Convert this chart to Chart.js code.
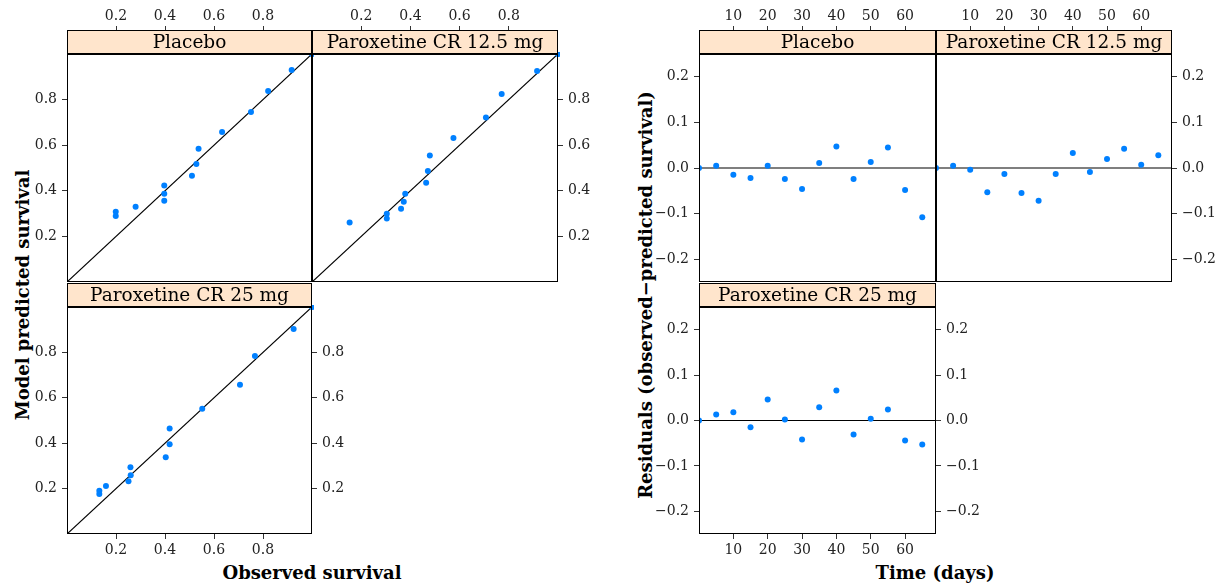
<!DOCTYPE html>
<html>
<head>
<meta charset="utf-8">
<script src="https://cdn.jsdelivr.net/npm/chart.js@4.4.1/dist/chart.umd.min.js"></script>
<style>
    body { margin: 0; background: #fff; width: 1219px; height: 587px; position: relative; overflow: hidden; font-family: "DejaVu Serif", serif; }
    canvas { position: absolute; }
    .title { position: absolute; font-weight: bold; font-size: 18px; white-space: nowrap; color: #000; transform: translate(-50%, -50%); }
    .title.rot { transform: translate(-50%, -50%) rotate(-90deg); }
</style>
</head>
<body>
<div class="title" style="left:312px;top:572px">Observed survival</div>
<div class="title" style="left:935px;top:572px">Time (days)</div>
<div class="title rot" style="left:22px;top:295px">Model predicted survival</div>
<div class="title rot" style="left:645px;top:295px">Residuals (observed−predicted survival)</div>
<script>
// panel names
const groups = ['Placebo', 'Paroxetine CR 12.5 mg', 'Paroxetine CR 25 mg'];

// observed vs model predicted survival
const obsPlacebo  = [1.0, 0.917, 0.821, 0.751, 0.633, 0.537, 0.528, 0.510, 0.397, 0.397, 0.397, 0.280, 0.199, 0.199];
const predPlacebo = [1.0, 0.930, 0.838, 0.746, 0.658, 0.584, 0.518, 0.466, 0.423, 0.387, 0.356, 0.330, 0.308, 0.290];
const obs125  = [1.0, 0.915, 0.771, 0.707, 0.575, 0.479, 0.471, 0.464, 0.379, 0.373, 0.362, 0.304, 0.304, 0.153];
const pred125 = [1.0, 0.925, 0.825, 0.722, 0.632, 0.555, 0.487, 0.435, 0.387, 0.352, 0.321, 0.299, 0.279, 0.261];
const obs25  = [1.0, 0.925, 0.767, 0.706, 0.552, 0.419, 0.419, 0.403, 0.260, 0.259, 0.251, 0.159, 0.132, 0.132];
const pred25 = [1.0, 0.903, 0.784, 0.657, 0.552, 0.465, 0.395, 0.338, 0.259, 0.294, 0.232, 0.211, 0.190, 0.176];

// residuals over time
const days = [0, 5, 10, 15, 20, 25, 30, 35, 40, 45, 50, 55, 60, 65];
const resPlacebo = [0, 0.005, -0.015, -0.022, 0.005, -0.024, -0.046, 0.011, 0.047, -0.024, 0.013, 0.045, -0.048, -0.108];
const res125 = [0, 0.005, -0.004, -0.053, -0.013, -0.055, -0.072, -0.013, 0.033, -0.009, 0.020, 0.042, 0.007, 0.028];
const res25 = [0, 0.013, 0.018, -0.015, 0.046, 0.002, -0.042, 0.029, 0.066, -0.031, 0.004, 0.024, -0.044, -0.053];

// axis limits and ticks
const survLimits = [0, 1];
const survTicks = [0.2, 0.4, 0.6, 0.8];
const survTickLabels = ['0.2', '0.4', '0.6', '0.8'];
const dayLimits = [0, 69];
const dayTicks = [10, 20, 30, 40, 50, 60];
const dayTickLabels = ['10', '20', '30', '40', '50', '60'];
const resLimits = [-0.25, 0.25];
const resTicks = [-0.2, -0.1, 0, 0.1, 0.2];
const resTickLabels = ['−0.2', '−0.1', '0.0', '0.1', '0.2'];

// sizes of the margins around each panel (px)
const LEFT_W = 52, RIGHT_W = 46, TOP_H = 22, STRIP_H = 24, BOTTOM_H = 28, PAD = 3, PAD_B = 16;
const tickFont = { family: '"DejaVu Serif", serif', size: 14 };

function pairs(xs, ys) {
    return xs.map((x, i) => ({ x: x, y: ys[i] }));
}

// strip on top of the panel + box around it
const panelDeco = {
    id: 'panelDeco',
    afterDraw(chart) {
        const ctx = chart.ctx;
        const a = chart.chartArea;
        const s = chart.scales.strip;
        const l = Math.round(a.left) + 0.5, r = Math.round(a.right) - 0.5;
        const st = Math.round(s.top) + 0.5, sb = Math.round(s.bottom) - 0.5;
        ctx.save();
        ctx.fillStyle = '#ffe5cc';
        ctx.fillRect(l, st, r - l, sb - st);
        ctx.strokeStyle = '#000';
        ctx.lineWidth = 1;
        ctx.strokeRect(l, st, r - l, sb - st);
        ctx.fillStyle = '#000';
        ctx.font = '18.5px "DejaVu Serif", serif';
        ctx.textAlign = 'center';
        ctx.textBaseline = 'middle';
        ctx.fillText(chart.options.plugins.panelDeco.label, (l + r) / 2, (st + sb) / 2 + 1);
        ctx.strokeRect(l, Math.round(a.top) + 0.5, r - l, Math.round(a.bottom) - Math.round(a.top) - 1);
        ctx.restore();
    }
};

function axisOpts(kind, ticks, labels, lim, extra) {
    return Object.assign({
        type: 'linear',
        min: lim[0],
        max: lim[1],
        afterBuildTicks: s => { s.ticks = ticks.map(v => ({ value: v })); },
        ticks: {
            font: tickFont,
            color: '#222',
            padding: kind === 'top' ? 1 : (kind === 'bottom' ? 3 : 5),
            maxRotation: 0,
            autoSkip: false,
            callback: (v, i) => labels[i]
        },
        grid: { drawOnChartArea: false, drawTicks: true, tickLength: kind === 'top' ? 4 : 5, color: '#333' },
        border: { display: false }
    }, extra);
}

function makePanel(p) {
    const cv = document.createElement('canvas');
    const padL = p.yLeft ? LEFT_W : PAD;
    const padR = p.yRight ? RIGHT_W : PAD;
    const padT = STRIP_H + (p.xTop ? TOP_H : PAD);
    const padB = p.xBottom ? BOTTOM_H : PAD_B;
    const width = (p.r - p.l) + padL + padR;
    const height = (p.b - p.t) + padT + padB;
    cv.width = width;
    cv.height = height;
    cv.style.left = (p.l - padL) + 'px';
    cv.style.top = (p.t - padT) + 'px';
    cv.style.width = width + 'px';
    cv.style.height = height + 'px';
    document.body.appendChild(cv);

    const xKind = p.xTop ? 'top' : 'bottom';
    const scales = {
        x: axisOpts(xKind, p.xTicks, p.xLabels, p.xLim, {
            position: xKind, weight: 1,
            afterFit: s => { s.height = p.xTop ? TOP_H : BOTTOM_H; }
        }),
        strip: {
            type: 'linear', position: 'top', weight: 0, min: 0, max: 1,
            ticks: { display: false }, grid: { display: false }, border: { display: false },
            afterFit: s => { s.height = STRIP_H; }
        },
        y: axisOpts('y', p.yTicks, p.yLabels, p.yLim, {
            position: p.yLeft ? 'left' : 'right',
            afterFit: s => { s.width = p.yLeft ? LEFT_W : RIGHT_W; }
        })
    };
    if (p.yLeft && p.yRight) {
        scales.y2 = axisOpts('y', p.yTicks, p.yLabels, p.yLim, {
            position: 'right',
            afterFit: s => { s.width = RIGHT_W; }
        });
    }

    new Chart(cv.getContext('2d'), {
        type: 'scatter',
        data: {
            datasets: [{
                data: p.points,
                xAxisID: 'x', yAxisID: 'y',
                pointRadius: 3,
                pointBorderWidth: 0,
                pointBackgroundColor: '#0080ff',
                clip: { left: 0, top: 2, right: 2, bottom: 0 }
            }, {
                type: 'line',
                data: p.refLine,
                xAxisID: 'x', yAxisID: 'y',
                showLine: true,
                pointRadius: 0,
                borderColor: '#000',
                borderWidth: 1.2,
                clip: 0
            }]
        },
        options: {
            responsive: false,
            animation: false,
            events: [],
            layout: {
                autoPadding: false,
                padding: {
                    left: p.yLeft ? 0 : PAD,
                    right: p.yRight ? 0 : PAD,
                    top: p.xTop ? 0 : PAD,
                    bottom: p.xBottom ? 0 : PAD_B
                }
            },
            scales: scales,
            plugins: {
                legend: { display: false },
                tooltip: { enabled: false },
                panelDeco: { label: p.label }
            }
        },
        plugins: [panelDeco]
    });
}

const identity = pairs(survLimits, survLimits);
const zeroLine = pairs(dayLimits, [0, 0]);
const survAxes = { xLim: survLimits, xTicks: survTicks, xLabels: survTickLabels, yLim: survLimits, yTicks: survTicks, yLabels: survTickLabels, refLine: identity };
const resAxes = { xLim: dayLimits, xTicks: dayTicks, xLabels: dayTickLabels, yLim: resLimits, yTicks: resTicks, yLabels: resTickLabels, refLine: zeroLine };

// left figure: observed vs predicted
makePanel(Object.assign({ label: groups[0], l: 67, t: 54, r: 312, b: 282, xTop: true, yLeft: true, points: pairs(obsPlacebo, predPlacebo) }, survAxes));
makePanel(Object.assign({ label: groups[1], l: 312, t: 54, r: 558, b: 282, xTop: true, yRight: true, points: pairs(obs125, pred125) }, survAxes));
makePanel(Object.assign({ label: groups[2], l: 67, t: 307, r: 312, b: 534, xBottom: true, yLeft: true, yRight: true, points: pairs(obs25, pred25) }, survAxes));

// right figure: residuals by time
makePanel(Object.assign({ label: groups[0], l: 699, t: 54, r: 936, b: 282, xTop: true, yLeft: true, points: pairs(days, resPlacebo) }, resAxes));
makePanel(Object.assign({ label: groups[1], l: 936, t: 54, r: 1172, b: 282, xTop: true, yRight: true, points: pairs(days, res125) }, resAxes));
makePanel(Object.assign({ label: groups[2], l: 699, t: 307, r: 936, b: 534, xBottom: true, yLeft: true, yRight: true, points: pairs(days, res25) }, resAxes));
</script>
</body>
</html>
